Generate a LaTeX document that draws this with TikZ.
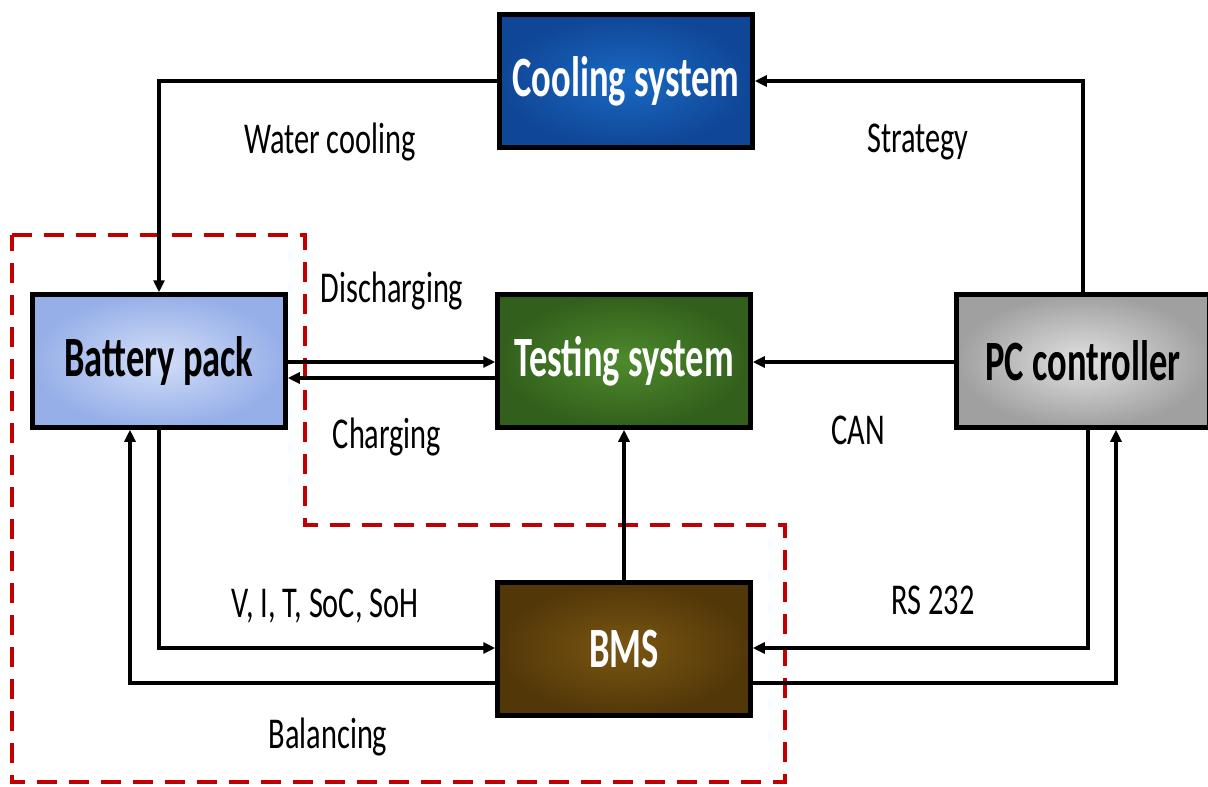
\documentclass[tikz,border=0pt]{standalone}
\usepackage{fontspec}
\setmainfont{Carlito}
\newfontfamily\lblfont{Carlito}[FakeStretch=0.69]
\newfontfamily\boxfont{Carlito}[FakeStretch=0.64]
\usetikzlibrary{arrows.meta}
\definecolor{dashred}{HTML}{C00000}
\begin{document}
\begin{tikzpicture}[x=1pt,y=-1pt,
  box/.style={draw=black, line width=4.5pt, minimum width=253pt, minimum height=133pt,
    inner sep=0pt, shading=radial, font=\boxfont\bfseries\fontsize{57}{60}\selectfont},
  conn/.style={line width=4pt, -{Triangle[length=12pt,width=11pt]}},
  lbl/.style={font=\lblfont\fontsize{44}{48}\selectfont, inner sep=0pt},
  outline/.style={draw=dashred, line width=4.5pt, dash pattern=on 20pt off 12pt}]
\useasboundingbox (0,0) rectangle (1208,787);
\fill[white] (0,0) rectangle (1208,787);

\draw[outline] (12,235) -- (305,235) -- (305,525) -- (785,525) -- (785,782) -- (12,782) -- cycle;

\node[box, inner color={rgb,255:red,25;green,105;blue,195}, outer color={rgb,255:red,16;green,70;blue,150}, text=white] (cool) at (626,81) {Cooling system};
\node[box, inner color={rgb,255:red,210;green,222;blue,248}, outer color={rgb,255:red,150;green,175;blue,232}, text=black] (bat) at (159,361) {Battery pack};
\node[box, inner color={rgb,255:red,78;green,138;blue,44}, outer color={rgb,255:red,50;green,95;blue,28}, text=white] (test) at (624,361) {Testing system};
\node[box, inner color={rgb,255:red,225;green,225;blue,225}, outer color={rgb,255:red,160;green,160;blue,160}, text=black] (pc) at (1083,361) {PC controller};
\node[box, inner color={rgb,255:red,122;green,86;blue,18}, outer color={rgb,255:red,82;green,55;blue,8}, text=white] (bms) at (624,649) {BMS};

% cooling -> battery
\draw[conn] (cool.west) -| (bat.north);
% pc -> cooling
\draw[conn] (pc.north) |- (cool.east);
% battery <-> testing
\draw[conn] (bat.east |- 0,362) -- (test.west |- 0,362);
\draw[conn] (test.west |- 0,378) -- (bat.east |- 0,378);
% pc -> testing
\draw[conn] (pc.west |- 0,362) -- (test.east |- 0,362);
% bms -> testing
\draw[conn] (bms.north) -- (test.south);
% battery -> bms
\draw[conn] (bat.south) |- (bms.west |- 0,648);
% bms -> battery (balancing)
\draw[conn] (bms.west |- 0,683) -| (bat.south -| 130,0);
% pc -> bms
\draw[conn] (pc.south -| 1088,0) |- (bms.east |- 0,648);
% bms -> pc
\draw[conn] (bms.east |- 0,683) -| (pc.south -| 1116,0);

\node[lbl] (lwc) at (330,142) {Water cooling};
\node[lbl] (lst) at (918,142) {Strategy};
\node[lbl] (ldis) at (392,291) {Discharging};
\node[lbl] (lch) at (387,437) {Charging};
\node[lbl] (lcan) at (858,430) {CAN};
\node[lbl] (lv) at (325,606) {V, I, T, SoC, SoH};
\node[lbl] (lrs) at (933,600) {RS 232};
\node[lbl] (lbal) at (328,737) {Balancing};
\end{tikzpicture}
\end{document}
